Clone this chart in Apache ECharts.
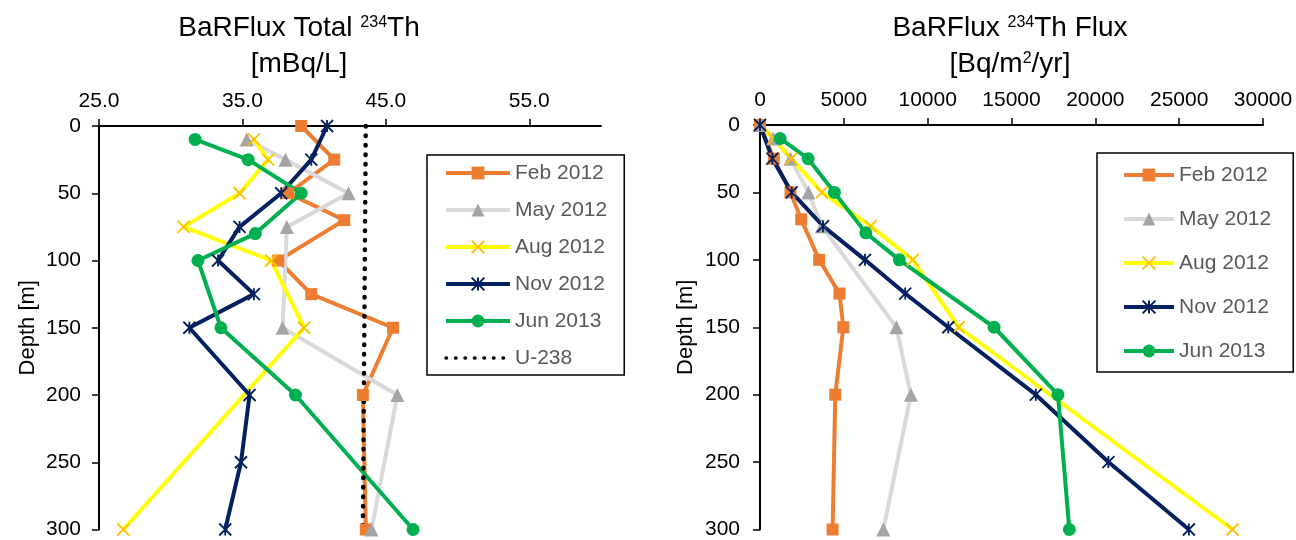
<!DOCTYPE html>
<html lang="en">
<head>
<meta charset="UTF-8">
<title>BaRFlux 234Th</title>
<script src="https://cdn.jsdelivr.net/npm/echarts@6/dist/echarts.min.js"></script>
</head>
<body style="margin:0;background:#fff;">
<div id="main" style="width:1296px;height:540px;"></div>
<script>
// depths [m] of each cruise
var depthFeb = [0, 25, 50, 70, 100, 125, 150, 200, 300];
var depthMay = [10, 25, 50, 75, 150, 200, 300];
var depthAug = [10, 25, 50, 75, 100, 150, 300];
var depthNov = [0, 25, 50, 75, 100, 125, 150, 200, 250, 300];
var depthJun = [10, 25, 50, 80, 100, 150, 200, 300];

// total 234Th [mBq/L]
var totalFeb = [39.1, 41.4, 38.2, 42.1, 37.5, 39.8, 45.5, 43.4, 43.6];
var totalMay = [35.3, 38.0, 42.4, 38.1, 37.8, 45.8, 44.0];
var totalAug = [35.8, 36.8, 34.8, 30.9, 37.0, 39.3, 26.7];
var totalNov = [40.9, 39.8, 37.7, 34.8, 33.3, 35.8, 31.3, 35.5, 34.9, 33.8];
var totalJun = [31.7, 35.4, 39.1, 35.9, 31.9, 33.5, 38.7, 46.9];
var u238Depth = [0, 300];
var u238 = [43.6, 43.4];

// 234Th flux [Bq/m2/yr]
var fluxDepthMay = [0, 10, 25, 50, 75, 150, 200, 300];
var fluxDepthAug = [0, 10, 25, 50, 75, 100, 150, 300];
var fluxFeb = [0, 820, 1820, 2460, 3530, 4740, 4970, 4490, 4330];
var fluxMay = [0, 790, 1820, 2890, 3690, 8130, 9000, 7360];
var fluxAug = [0, 810, 1870, 3690, 6600, 9110, 11850, 28180];
var fluxNov = [0, 740, 1890, 3760, 6260, 8660, 11230, 16450, 20780, 25580];
var fluxJun = [1200, 2870, 4440, 6310, 8310, 13960, 17770, 18450];

var totalTicks = [25, 35, 45, 55];

var FONT = '"Liberation Sans", Arial, sans-serif';
var X_PATH = 'path://M0,0L10,10M0,10L10,0';
var STAR_PATH = 'path://M0,0L10,10M0,10L10,0M5,0L5,10';

var looks = {
    'Feb 2012': {line: '#ED7D31', symbol: 'rect', size: 12, fill: '#ED7D31', border: '#ED7D31', bw: 0},
    'May 2012': {line: '#D9D9D9', symbol: 'triangle', size: 14, fill: '#A5A5A5', border: '#A5A5A5', bw: 0},
    'Aug 2012': {line: '#FFFF00', symbol: X_PATH, size: 12, fill: 'transparent', border: '#FFC000', bw: 1.8},
    'Nov 2012': {line: '#002060', symbol: STAR_PATH, size: 12, fill: 'transparent', border: '#002060', bw: 1.8},
    'Jun 2013': {line: '#00B050', symbol: 'circle', size: 13, fill: '#00B050', border: '#00B050', bw: 0}
};

function pairs(xs, ys) {
    return xs.map(function (v, i) { return [v, ys[i]]; });
}

function mkSeries(name, idx, xs, ys) {
    var s = looks[name];
    return {
        name: name,
        type: 'line',
        xAxisIndex: idx,
        yAxisIndex: idx,
        data: pairs(xs, ys),
        symbol: s.symbol,
        symbolSize: s.size,
        showSymbol: true,
        lineStyle: {color: s.line, width: 4},
        itemStyle: {color: s.fill, borderColor: s.border, borderWidth: s.bw},
        emphasis: {disabled: true}
    };
}

function yAx(idx, margin, gap) {
    return {
        type: 'value', gridIndex: idx, inverse: true, min: 0, max: 300, interval: 50,
        name: 'Depth [m]', nameLocation: 'middle', nameGap: gap, nameRotate: 90,
        nameTextStyle: {fontFamily: FONT, fontSize: 22, color: '#000'},
        axisLine: {show: true, onZero: false, lineStyle: {color: '#000', width: 2}},
        axisTick: {show: true, length: 7, lineStyle: {color: '#000', width: 1.5}},
        axisLabel: {fontFamily: FONT, fontSize: 21, color: '#000', margin: margin},
        splitLine: {show: false}
    };
}

var legendText = {fontFamily: FONT, fontSize: 21, color: '#595959', lineHeight: 24};
var titleRich = {
    a: {fontFamily: FONT, fontSize: 28, color: '#000', lineHeight: 36},
    s: {fontFamily: FONT, fontSize: 16, color: '#000', lineHeight: 16, verticalAlign: 'top', padding: [5, 0, 0, 0]}
};

var myChart = echarts.init(document.getElementById('main'));

var option = {
    backgroundColor: '#fff',
    animation: false,
    graphic: [
        {type: 'text', x: 299, y: 10, style: {text: '{a|BaRFlux Total }{s|234}{a|Th}\n{a|[mBq/L]}', rich: titleRich, align: 'center', verticalAlign: 'top'}},
        {type: 'text', x: 1010, y: 10, style: {text: '{a|BaRFlux }{s|234}{a|Th Flux}\n{a|[Bq/m}{s|2}{a|/yr]}', rich: titleRich, align: 'center', verticalAlign: 'top'}}
    ],
    grid: [
        {left: 99, top: 126, right: 695, bottom: 8},
        {left: 760, top: 125, right: 33, bottom: 10}
    ],
    xAxis: [
        {
            type: 'value', gridIndex: 0, position: 'top', min: 25, max: 60, interval: 10,
            axisLine: {show: true, onZero: false, lineStyle: {color: '#000', width: 2}},
            axisTick: {show: true, length: 7, customValues: totalTicks, lineStyle: {color: '#000', width: 1.5}},
            axisLabel: {fontFamily: FONT, fontSize: 21, color: '#000', margin: 14, customValues: totalTicks,
                formatter: function (v) { return v.toFixed(1); }},
            splitLine: {show: false}
        },
        {
            type: 'value', gridIndex: 1, position: 'top', min: 0, max: 30000, interval: 5000,
            axisLine: {show: true, onZero: false, lineStyle: {color: '#000', width: 2}},
            axisTick: {show: true, length: 7, lineStyle: {color: '#000', width: 1.5}},
            axisLabel: {fontFamily: FONT, fontSize: 21, color: '#000', margin: 14,
                formatter: function (v) { return String(v); }},
            splitLine: {show: false}
        }
    ],
    yAxis: [yAx(0, 18, 60), yAx(1, 20, 63)],
    legend: [
        {
            left: 427, top: 155, orient: 'vertical',
            data: ['Feb 2012', 'May 2012', 'Aug 2012', 'Nov 2012', 'Jun 2013',
                {name: 'U-238', itemStyle: {opacity: 0}, lineStyle: {width: 3.5}}],
            itemWidth: 64, itemHeight: 16, itemGap: 13,
            padding: [6, 17, 5, 17],
            borderColor: '#000', borderWidth: 1.5,
            lineStyle: {width: 4},
            textStyle: legendText,
            selectedMode: false
        },
        {
            left: 1097, top: 153, orient: 'vertical',
            data: ['Feb 2012', 'May 2012', 'Aug 2012', 'Nov 2012', 'Jun 2013'],
            itemWidth: 50, itemHeight: 16, itemGap: 20,
            padding: [10, 22, 9, 25],
            borderColor: '#000', borderWidth: 1.5,
            lineStyle: {width: 4},
            textStyle: legendText,
            selectedMode: false
        }
    ],
    series: [
        mkSeries('Feb 2012', 0, totalFeb, depthFeb),
        mkSeries('May 2012', 0, totalMay, depthMay),
        mkSeries('Aug 2012', 0, totalAug, depthAug),
        mkSeries('Nov 2012', 0, totalNov, depthNov),
        mkSeries('Jun 2013', 0, totalJun, depthJun),
        {
            name: 'U-238', type: 'line', xAxisIndex: 0, yAxisIndex: 0,
            data: pairs(u238, u238Depth),
            symbol: 'none',
            lineStyle: {color: '#000', width: 4.5, type: [0.5, 9], cap: 'round'},
            itemStyle: {color: '#000'},
            emphasis: {disabled: true}
        },
        mkSeries('Feb 2012', 1, fluxFeb, depthFeb),
        mkSeries('May 2012', 1, fluxMay, fluxDepthMay),
        mkSeries('Aug 2012', 1, fluxAug, fluxDepthAug),
        mkSeries('Nov 2012', 1, fluxNov, depthNov),
        mkSeries('Jun 2013', 1, fluxJun, depthJun)
    ]
};

myChart.setOption(option);
</script>
</body>
</html>
